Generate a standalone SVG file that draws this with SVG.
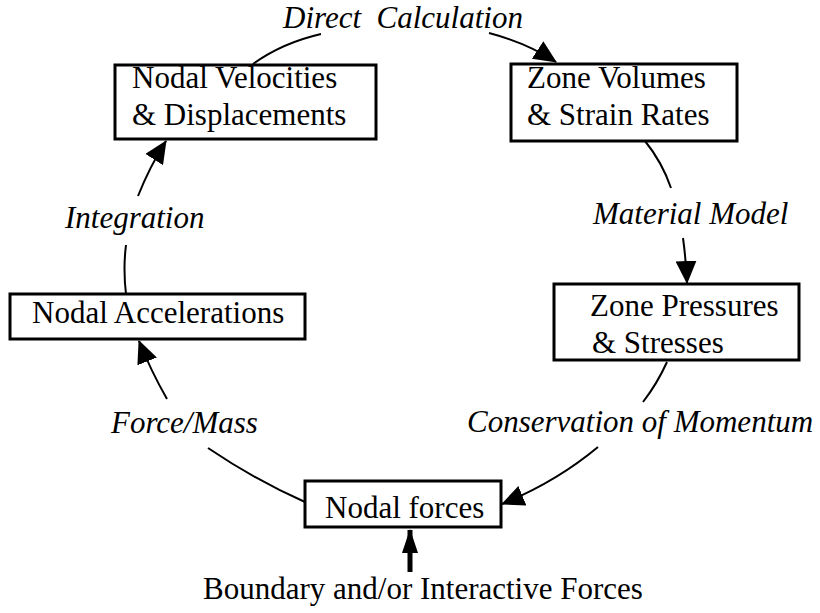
<svg xmlns="http://www.w3.org/2000/svg" width="820" height="613" viewBox="0 0 820 613">
<style>
.box{fill:#fff;stroke:#000;stroke-width:3}
.t{font-family:'Liberation Serif','DejaVu Serif',serif;font-size:31px;fill:#000}
.lbl{font-style:italic}
.conn{fill:none;stroke:#000;stroke-width:2}
.thick{fill:none;stroke:#000;stroke-width:5}
</style>
<defs>
<marker id="ah" markerUnits="userSpaceOnUse" viewBox="0 0 23 21" markerWidth="23" markerHeight="21" refX="22" refY="10.5" orient="auto">
<path d="M0,0 L23,10.5 L0,21 z" fill="#000"/>
</marker>
<marker id="ahv" markerUnits="userSpaceOnUse" viewBox="0 0 24 16" markerWidth="24" markerHeight="16" refX="23" refY="8" orient="auto">
<path d="M0,0 L24,8 L0,16 z" fill="#000"/>
</marker>
</defs>
<rect width="820" height="613" fill="#fff"/>
<g id="connectors">
<path class="conn" d="M253,64 Q282,43 321,34"/>
<path class="conn" marker-end="url(#ah)" d="M489,33 Q527,43 556,62"/>
<path class="conn" d="M645,141 Q662,162 671,188"/>
<path class="conn" marker-end="url(#ah)" d="M683,238 Q686,260 687,283"/>
<path class="conn" d="M667,362 Q657,384 643,402"/>
<path class="conn" marker-end="url(#ah)" d="M598,447 Q556,482 502,504"/>
<path class="conn" d="M305,502 Q257,481 208,448"/>
<path class="conn" marker-end="url(#ah)" d="M167,399 Q151,371 139,341"/>
<path class="conn" d="M126,294 Q123,269 126,245"/>
<path class="conn" marker-end="url(#ah)" d="M138,196 Q150,166 166,141"/>
<path class="thick" marker-end="url(#ahv)" d="M410,572 L410,530"/>
</g>
<g font-family="Liberation Serif, DejaVu Serif, serif">
<g id="node-velocities">
<rect class="box" x="115" y="65" width="261" height="74"/>
<text class="t" x="132" y="88">Nodal Velocities</text>
<text class="t" x="132" y="125">&amp; Displacements</text>
</g>
<g id="node-volumes">
<rect class="box" x="511" y="64" width="226" height="77"/>
<text class="t" x="527" y="88">Zone Volumes</text>
<text class="t" x="527" y="125">&amp; Strain Rates</text>
</g>
<g id="node-pressures">
<rect class="box" x="554" y="284" width="245" height="76"/>
<text class="t" x="590" y="316">Zone Pressures</text>
<text class="t" x="592" y="353">&amp; Stresses</text>
</g>
<g id="node-accelerations">
<rect class="box" x="10" y="294" width="295" height="45"/>
<text class="t" x="32" y="323">Nodal Accelerations</text>
</g>
<g id="node-forces">
<rect class="box" x="305" y="481" width="196" height="46"/>
<text class="t" x="325" y="518">Nodal forces</text>
</g>
<g id="labels">
<text class="t lbl" x="283" y="28" xml:space="preserve">Direct  Calculation</text>
<text class="t lbl" x="593" y="224">Material Model</text>
<text class="t lbl" x="467" y="432">Conservation of Momentum</text>
<text class="t lbl" x="111" y="433">Force/Mass</text>
<text class="t lbl" x="65" y="228">Integration</text>
<text class="t" x="203" y="599">Boundary and/or Interactive Forces</text>
</g>
</g>
</svg>
